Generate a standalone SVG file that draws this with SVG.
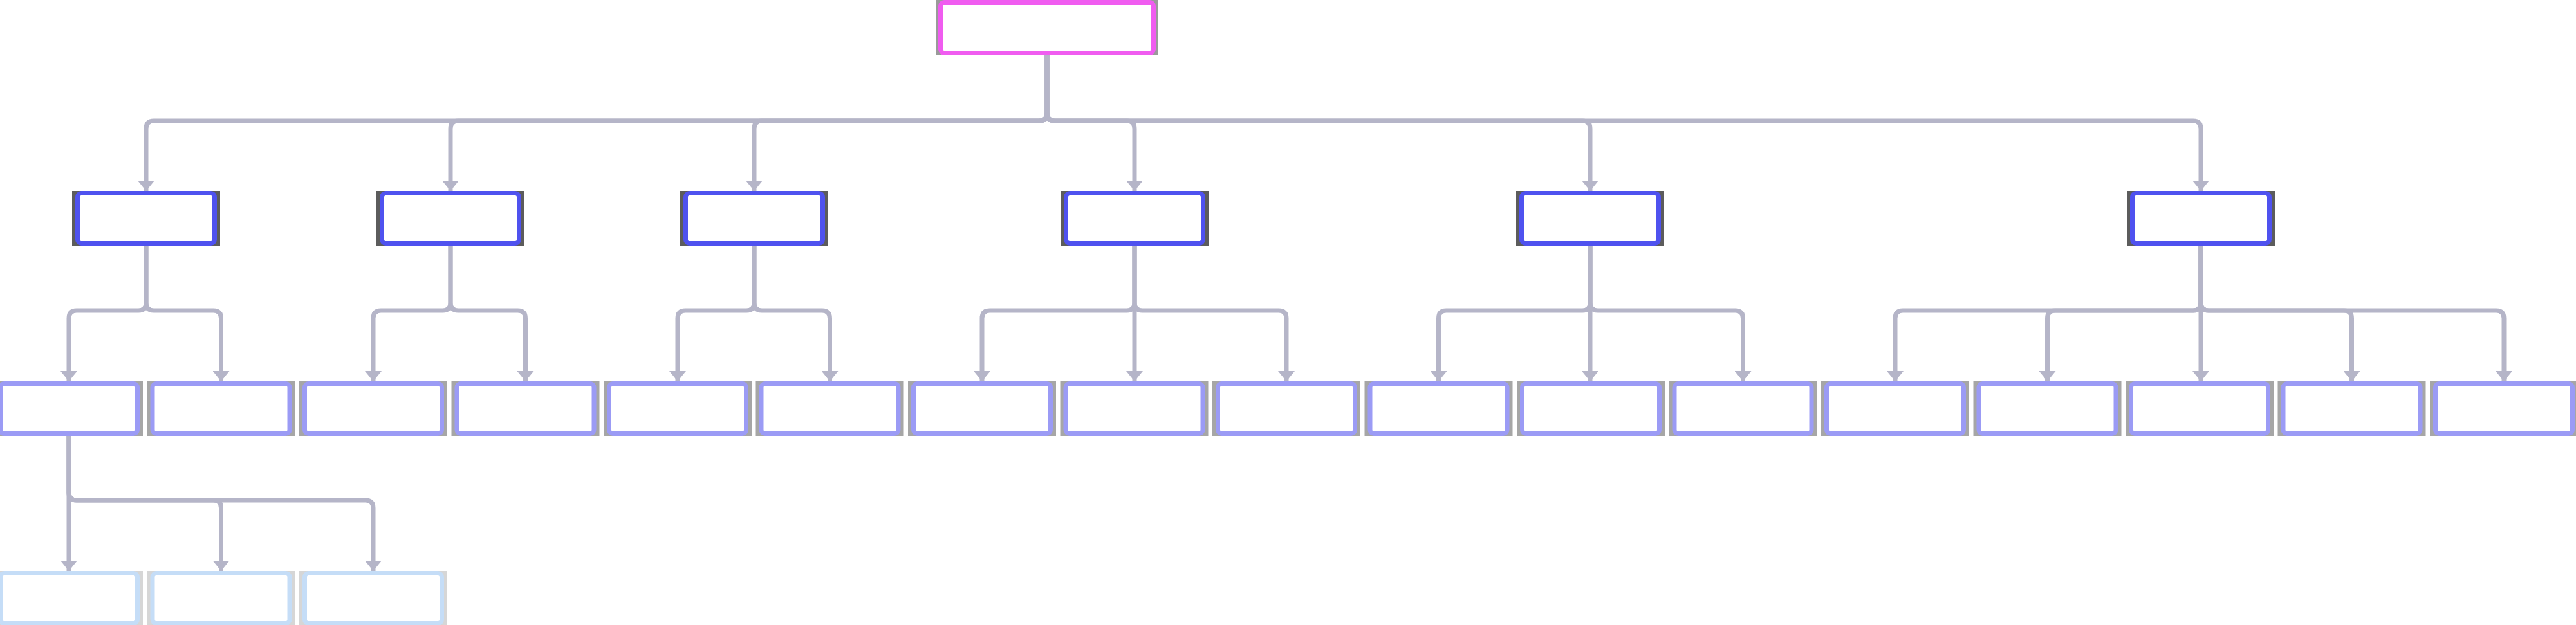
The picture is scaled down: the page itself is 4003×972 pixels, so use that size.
<svg xmlns="http://www.w3.org/2000/svg" width="4003" height="972" viewBox="0 0 4003 972">
<defs>
<style>
.edge{fill:none;stroke:#b5b5c8;stroke-width:7;}
.box{fill:#ffffff;stroke-width:7;}
.root .box{stroke:#f05cf0;}
.l1 .box{stroke:#4f52ef;}
.l2 .box{stroke:#9b9bf5;}
.l3 .box{stroke:#c5ddf7;}
.root .sh{fill:#9a9a9a;}
.l1 .sh{fill:#5c5c5c;}
.l2 .sh{fill:#a6a6a6;}
.l3 .sh{fill:#d6d6d6;}
</style>
<marker id="arr" markerUnits="userSpaceOnUse" markerWidth="16" markerHeight="26" viewBox="0 0 16 26" refX="16" refY="13" orient="auto">
<path d="M0,0 L16,13 L0,26 Z" fill="#b5b5c8"/>
</marker>
</defs>
<rect x="0" y="0" width="4003" height="972" fill="#ffffff"/>

<g id="connectors">
<path class="edge" marker-end="url(#arr)" d="M1627,86 V176 Q1627,188 1615,188 H239 Q227,188 227,200 V297"/>
<path class="edge" marker-end="url(#arr)" d="M1627,86 V176 Q1627,188 1615,188 H712 Q700,188 700,200 V297"/>
<path class="edge" marker-end="url(#arr)" d="M1627,86 V176 Q1627,188 1615,188 H1184 Q1172,188 1172,200 V297"/>
<path class="edge" marker-end="url(#arr)" d="M1627,86 V176 Q1627,188 1639,188 H1751 Q1763,188 1763,200 V297"/>
<path class="edge" marker-end="url(#arr)" d="M1627,86 V176 Q1627,188 1639,188 H2459 Q2471,188 2471,200 V297"/>
<path class="edge" marker-end="url(#arr)" d="M1627,86 V176 Q1627,188 1639,188 H3408 Q3420,188 3420,200 V297"/>

<path class="edge" marker-end="url(#arr)" d="M227,382 V471 Q227,483 215,483 H119 Q107,483 107,495 V593"/>
<path class="edge" marker-end="url(#arr)" d="M227,382 V471 Q227,483 239,483 H331.5 Q343.5,483 343.5,495 V593"/>
<path class="edge" marker-end="url(#arr)" d="M700,382 V471 Q700,483 688,483 H592 Q580,483 580,495 V593"/>
<path class="edge" marker-end="url(#arr)" d="M700,382 V471 Q700,483 712,483 H804.5 Q816.5,483 816.5,495 V593"/>
<path class="edge" marker-end="url(#arr)" d="M1172,382 V471 Q1172,483 1160,483 H1065 Q1053,483 1053,495 V593"/>
<path class="edge" marker-end="url(#arr)" d="M1172,382 V471 Q1172,483 1184,483 H1277.5 Q1289.5,483 1289.5,495 V593"/>
<path class="edge" marker-end="url(#arr)" d="M1763,382 V471 Q1763,483 1751,483 H1538 Q1526,483 1526,495 V593"/>
<path class="edge" marker-end="url(#arr)" d="M1763,382 V593"/>
<path class="edge" marker-end="url(#arr)" d="M1763,382 V471 Q1763,483 1775,483 H1987 Q1999,483 1999,495 V593"/>
<path class="edge" marker-end="url(#arr)" d="M2471,382 V471 Q2471,483 2459,483 H2247.5 Q2235.5,483 2235.5,495 V593"/>
<path class="edge" marker-end="url(#arr)" d="M2471,382 V593"/>
<path class="edge" marker-end="url(#arr)" d="M2471,382 V471 Q2471,483 2483,483 H2696.5 Q2708.5,483 2708.5,495 V593"/>
<path class="edge" marker-end="url(#arr)" d="M3420,382 V471 Q3420,483 3408,483 H2957 Q2945,483 2945,495 V593"/>
<path class="edge" marker-end="url(#arr)" d="M3420,382 V471 Q3420,483 3408,483 H3193.5 Q3181.5,483 3181.5,495 V593"/>
<path class="edge" marker-end="url(#arr)" d="M3420,382 V593"/>
<path class="edge" marker-end="url(#arr)" d="M3420,382 V471 Q3420,483 3432,483 H3642.5 Q3654.5,483 3654.5,495 V593"/>
<path class="edge" marker-end="url(#arr)" d="M3420,382 V471 Q3420,483 3432,483 H3879 Q3891,483 3891,495 V593"/>

<path class="edge" marker-end="url(#arr)" d="M107,678 V888"/>
<path class="edge" marker-end="url(#arr)" d="M107,678 V766 Q107,778 119,778 H331.5 Q343.5,778 343.5,790 V888"/>
<path class="edge" marker-end="url(#arr)" d="M107,678 V766 Q107,778 119,778 H568 Q580,778 580,790 V888"/>
</g>

<g id="n-root" class="root"><rect class="sh" x="1454" y="0" width="346" height="86"/><rect class="box" x="1461.5" y="3.5" width="331" height="79" rx="6"/></g>

<g id="n-1" class="l1"><rect class="sh" x="112" y="297" width="230" height="85"/><rect class="box" x="120.5" y="300.5" width="213" height="78" rx="6"/></g>
<g id="n-2" class="l1"><rect class="sh" x="585" y="297" width="230" height="85"/><rect class="box" x="593.5" y="300.5" width="213" height="78" rx="6"/></g>
<g id="n-3" class="l1"><rect class="sh" x="1057" y="297" width="230" height="85"/><rect class="box" x="1065.5" y="300.5" width="213" height="78" rx="6"/></g>
<g id="n-4" class="l1"><rect class="sh" x="1648" y="297" width="230" height="85"/><rect class="box" x="1656.5" y="300.5" width="213" height="78" rx="6"/></g>
<g id="n-5" class="l1"><rect class="sh" x="2356" y="297" width="230" height="85"/><rect class="box" x="2364.5" y="300.5" width="213" height="78" rx="6"/></g>
<g id="n-6" class="l1"><rect class="sh" x="3305" y="297" width="230" height="85"/><rect class="box" x="3313.5" y="300.5" width="213" height="78" rx="6"/></g>

<g id="n-1-1" class="l2"><rect class="sh" x="-8" y="593" width="230" height="85"/><rect class="box" x="0.5" y="596.5" width="213" height="78" rx="6"/></g>
<g id="n-1-2" class="l2"><rect class="sh" x="228.5" y="593" width="230" height="85"/><rect class="box" x="237" y="596.5" width="213" height="78" rx="6"/></g>
<g id="n-2-1" class="l2"><rect class="sh" x="465" y="593" width="230" height="85"/><rect class="box" x="473.5" y="596.5" width="213" height="78" rx="6"/></g>
<g id="n-2-2" class="l2"><rect class="sh" x="701.5" y="593" width="230" height="85"/><rect class="box" x="710" y="596.5" width="213" height="78" rx="6"/></g>
<g id="n-3-1" class="l2"><rect class="sh" x="938" y="593" width="230" height="85"/><rect class="box" x="946.5" y="596.5" width="213" height="78" rx="6"/></g>
<g id="n-3-2" class="l2"><rect class="sh" x="1174.5" y="593" width="230" height="85"/><rect class="box" x="1183" y="596.5" width="213" height="78" rx="6"/></g>
<g id="n-4-1" class="l2"><rect class="sh" x="1411" y="593" width="230" height="85"/><rect class="box" x="1419.5" y="596.5" width="213" height="78" rx="6"/></g>
<g id="n-4-2" class="l2"><rect class="sh" x="1647.5" y="593" width="230" height="85"/><rect class="box" x="1656" y="596.5" width="213" height="78" rx="6"/></g>
<g id="n-4-3" class="l2"><rect class="sh" x="1884" y="593" width="230" height="85"/><rect class="box" x="1892.5" y="596.5" width="213" height="78" rx="6"/></g>
<g id="n-5-1" class="l2"><rect class="sh" x="2120.5" y="593" width="230" height="85"/><rect class="box" x="2129" y="596.5" width="213" height="78" rx="6"/></g>
<g id="n-5-2" class="l2"><rect class="sh" x="2357" y="593" width="230" height="85"/><rect class="box" x="2365.5" y="596.5" width="213" height="78" rx="6"/></g>
<g id="n-5-3" class="l2"><rect class="sh" x="2593.5" y="593" width="230" height="85"/><rect class="box" x="2602" y="596.5" width="213" height="78" rx="6"/></g>
<g id="n-6-1" class="l2"><rect class="sh" x="2830" y="593" width="230" height="85"/><rect class="box" x="2838.5" y="596.5" width="213" height="78" rx="6"/></g>
<g id="n-6-2" class="l2"><rect class="sh" x="3066.5" y="593" width="230" height="85"/><rect class="box" x="3075" y="596.5" width="213" height="78" rx="6"/></g>
<g id="n-6-3" class="l2"><rect class="sh" x="3303" y="593" width="230" height="85"/><rect class="box" x="3311.5" y="596.5" width="213" height="78" rx="6"/></g>
<g id="n-6-4" class="l2"><rect class="sh" x="3539.5" y="593" width="230" height="85"/><rect class="box" x="3548" y="596.5" width="213" height="78" rx="6"/></g>
<g id="n-6-5" class="l2"><rect class="sh" x="3776" y="593" width="230" height="85"/><rect class="box" x="3784.5" y="596.5" width="213" height="78" rx="6"/></g>

<g id="n-1-1-1" class="l3"><rect class="sh" x="-8" y="888" width="230" height="85"/><rect class="box" x="0.5" y="891.5" width="213" height="78" rx="6"/></g>
<g id="n-1-1-2" class="l3"><rect class="sh" x="228.5" y="888" width="230" height="85"/><rect class="box" x="237" y="891.5" width="213" height="78" rx="6"/></g>
<g id="n-1-1-3" class="l3"><rect class="sh" x="465" y="888" width="230" height="85"/><rect class="box" x="473.5" y="891.5" width="213" height="78" rx="6"/></g>
</svg>
